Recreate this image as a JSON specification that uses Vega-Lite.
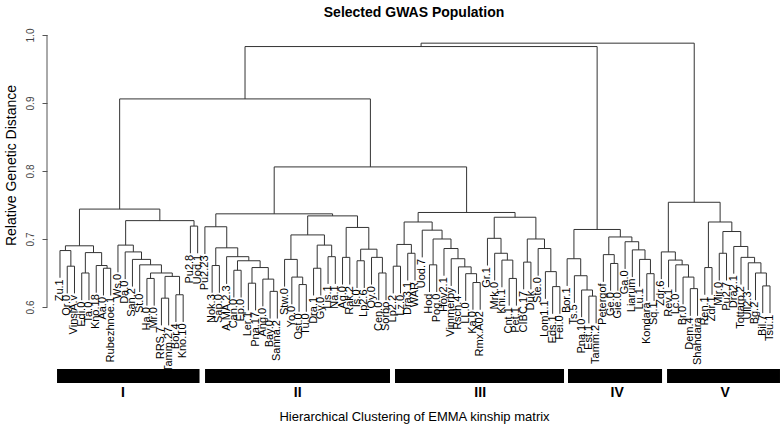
{
  "$schema": "https://vega.github.io/schema/vega-lite/v6.json",
  "width": 734,
  "height": 348,
  "autosize": "none",
  "padding": {"left": 47, "top": 35, "right": 0, "bottom": 42},
  "background": "white",
  "config": {"view": {"stroke": null}, "font": "Liberation Sans"},
  "title": {"text": "Selected GWAS Population", "fontSize": 14, "fontWeight": "bold", "font": "Liberation Sans", "color": "black", "offset": 8},
  "datasets": {
    "nodes": [
      {"x1":1,"x2":2,"h":0.660,"h1":0.620,"h2":0.620},
      {"x1":0,"x2":1.5,"h":0.683,"h1":0.643,"h2":0.660},
      {"x1":3,"x2":4,"h":0.650,"h1":0.610,"h2":0.610},
      {"x1":6,"x2":7,"h":0.657,"h1":0.617,"h2":0.617},
      {"x1":5,"x2":6.5,"h":0.661,"h1":0.621,"h2":0.657},
      {"x1":3.5,"x2":5.75,"h":0.680,"h1":0.650,"h2":0.661},
      {"x1":0.75,"x2":4.625,"h":0.690,"h1":0.683,"h2":0.680},
      {"x1":14,"x2":15,"h":0.613,"h1":0.573,"h2":0.573},
      {"x1":16,"x2":17,"h":0.618,"h1":0.578,"h2":0.578},
      {"x1":14.5,"x2":16.5,"h":0.645,"h1":0.613,"h2":0.618},
      {"x1":12,"x2":13,"h":0.642,"h1":0.602,"h2":0.602},
      {"x1":12.5,"x2":15.5,"h":0.650,"h1":0.642,"h2":0.645},
      {"x1":11,"x2":14,"h":0.662,"h1":0.622,"h2":0.650},
      {"x1":10,"x2":12.5,"h":0.670,"h1":0.630,"h2":0.662},
      {"x1":9,"x2":11.25,"h":0.681,"h1":0.641,"h2":0.670},
      {"x1":8,"x2":10.125,"h":0.691,"h1":0.651,"h2":0.681},
      {"x1":18,"x2":19,"h":0.719,"h1":0.679,"h2":0.679},
      {"x1":9.0625,"x2":18.5,"h":0.727,"h1":0.691,"h2":0.719},
      {"x1":2.6875,"x2":13.78125,"h":0.744,"h1":0.690,"h2":0.727},
      {"x1":21,"x2":22,"h":0.661,"h1":0.621,"h2":0.621},
      {"x1":24,"x2":25,"h":0.654,"h1":0.614,"h2":0.614},
      {"x1":26,"x2":27,"h":0.635,"h1":0.595,"h2":0.595},
      {"x1":29,"x2":30,"h":0.623,"h1":0.583,"h2":0.583},
      {"x1":28,"x2":29.5,"h":0.641,"h1":0.601,"h2":0.623},
      {"x1":26.5,"x2":28.75,"h":0.658,"h1":0.635,"h2":0.641},
      {"x1":24.5,"x2":27.625,"h":0.668,"h1":0.654,"h2":0.658},
      {"x1":23,"x2":26.0625,"h":0.674,"h1":0.634,"h2":0.668},
      {"x1":21.5,"x2":24.53125,"h":0.687,"h1":0.661,"h2":0.674},
      {"x1":20,"x2":23.015625,"h":0.718,"h1":0.678,"h2":0.687},
      {"x1":33,"x2":34,"h":0.633,"h1":0.593,"h2":0.593},
      {"x1":32,"x2":33.5,"h":0.644,"h1":0.604,"h2":0.633},
      {"x1":31,"x2":32.75,"h":0.670,"h1":0.630,"h2":0.644},
      {"x1":35,"x2":36,"h":0.657,"h1":0.617,"h2":0.617},
      {"x1":37,"x2":38,"h":0.674,"h1":0.634,"h2":0.634},
      {"x1":35.5,"x2":37.5,"h":0.691,"h1":0.657,"h2":0.674},
      {"x1":31.875,"x2":36.5,"h":0.706,"h1":0.670,"h2":0.691},
      {"x1":39,"x2":40,"h":0.673,"h1":0.633,"h2":0.633},
      {"x1":41,"x2":42,"h":0.668,"h1":0.628,"h2":0.628},
      {"x1":44,"x2":45,"h":0.650,"h1":0.610,"h2":0.610},
      {"x1":43,"x2":44.5,"h":0.673,"h1":0.633,"h2":0.650},
      {"x1":41.5,"x2":43.75,"h":0.685,"h1":0.668,"h2":0.673},
      {"x1":39.5,"x2":42.625,"h":0.717,"h1":0.673,"h2":0.685},
      {"x1":34.1875,"x2":41.0625,"h":0.734,"h1":0.706,"h2":0.717},
      {"x1":21.5078,"x2":37.625,"h":0.737,"h1":0.718,"h2":0.734},
      {"x1":46,"x2":47,"h":0.660,"h1":0.620,"h2":0.620},
      {"x1":48,"x2":49,"h":0.679,"h1":0.639,"h2":0.639},
      {"x1":46.5,"x2":48.5,"h":0.692,"h1":0.660,"h2":0.679},
      {"x1":57,"x2":58,"h":0.636,"h1":0.596,"h2":0.596},
      {"x1":56,"x2":57.5,"h":0.649,"h1":0.609,"h2":0.636},
      {"x1":55,"x2":56.75,"h":0.659,"h1":0.619,"h2":0.649},
      {"x1":54,"x2":55.875,"h":0.671,"h1":0.631,"h2":0.659},
      {"x1":53,"x2":54.9375,"h":0.686,"h1":0.646,"h2":0.671},
      {"x1":51,"x2":52,"h":0.662,"h1":0.622,"h2":0.622},
      {"x1":51.5,"x2":53.96875,"h":0.700,"h1":0.662,"h2":0.686},
      {"x1":50,"x2":52.734375,"h":0.713,"h1":0.673,"h2":0.700},
      {"x1":47.5,"x2":51.367188,"h":0.725,"h1":0.692,"h2":0.713},
      {"x1":62,"x2":63,"h":0.642,"h1":0.602,"h2":0.602},
      {"x1":61,"x2":62.5,"h":0.669,"h1":0.629,"h2":0.642},
      {"x1":60,"x2":61.75,"h":0.679,"h1":0.639,"h2":0.669},
      {"x1":59,"x2":60.875,"h":0.701,"h1":0.661,"h2":0.679},
      {"x1":64,"x2":65,"h":0.666,"h1":0.626,"h2":0.626},
      {"x1":68,"x2":69,"h":0.630,"h1":0.590,"h2":0.590},
      {"x1":67,"x2":68.5,"h":0.652,"h1":0.612,"h2":0.630},
      {"x1":66,"x2":67.75,"h":0.686,"h1":0.646,"h2":0.652},
      {"x1":64.5,"x2":66.875,"h":0.700,"h1":0.666,"h2":0.686},
      {"x1":59.9375,"x2":65.6875,"h":0.732,"h1":0.701,"h2":0.700},
      {"x1":49.433594,"x2":62.8125,"h":0.739,"h1":0.725,"h2":0.732},
      {"x1":29.5664,"x2":56.123047,"h":0.806,"h1":0.737,"h2":0.739},
      {"x1":8.234375,"x2":42.844724,"h":0.906,"h1":0.744,"h2":0.806},
      {"x1":73,"x2":74,"h":0.616,"h1":0.576,"h2":0.576},
      {"x1":72,"x2":73.5,"h":0.625,"h1":0.585,"h2":0.616},
      {"x1":71,"x2":72.75,"h":0.646,"h1":0.606,"h2":0.625},
      {"x1":70,"x2":71.875,"h":0.671,"h1":0.631,"h2":0.646},
      {"x1":76,"x2":77,"h":0.664,"h1":0.624,"h2":0.624},
      {"x1":75,"x2":76.5,"h":0.677,"h1":0.637,"h2":0.664},
      {"x1":81,"x2":82,"h":0.649,"h1":0.609,"h2":0.609},
      {"x1":80,"x2":81.5,"h":0.670,"h1":0.630,"h2":0.649},
      {"x1":79,"x2":80.75,"h":0.684,"h1":0.644,"h2":0.670},
      {"x1":78,"x2":79.875,"h":0.696,"h1":0.656,"h2":0.684},
      {"x1":75.75,"x2":78.9375,"h":0.703,"h1":0.677,"h2":0.696},
      {"x1":70.9375,"x2":77.34375,"h":0.714,"h1":0.671,"h2":0.703},
      {"x1":87,"x2":88,"h":0.627,"h1":0.587,"h2":0.587},
      {"x1":86,"x2":87.5,"h":0.644,"h1":0.604,"h2":0.627},
      {"x1":85,"x2":86.75,"h":0.662,"h1":0.622,"h2":0.644},
      {"x1":84,"x2":85.875,"h":0.669,"h1":0.629,"h2":0.662},
      {"x1":83,"x2":84.9375,"h":0.681,"h1":0.641,"h2":0.669},
      {"x1":89,"x2":90,"h":0.658,"h1":0.618,"h2":0.618},
      {"x1":91,"x2":92,"h":0.679,"h1":0.639,"h2":0.639},
      {"x1":97,"x2":98,"h":0.631,"h1":0.591,"h2":0.591},
      {"x1":96,"x2":97.5,"h":0.650,"h1":0.610,"h2":0.631},
      {"x1":95,"x2":96.75,"h":0.665,"h1":0.625,"h2":0.650},
      {"x1":94,"x2":95.875,"h":0.673,"h1":0.633,"h2":0.665},
      {"x1":93,"x2":94.9375,"h":0.689,"h1":0.649,"h2":0.673},
      {"x1":91.5,"x2":93.96875,"h":0.711,"h1":0.679,"h2":0.689},
      {"x1":89.5,"x2":92.734375,"h":0.725,"h1":0.658,"h2":0.711},
      {"x1":83.96875,"x2":91.117188,"h":0.754,"h1":0.681,"h2":0.725},
      {"x1":25.53955,"x2":74.140625,"h":0.983,"h1":0.906,"h2":0.714},
      {"x1":49.840088,"x2":87.542969,"h":0.988,"h1":0.983,"h2":0.754}
    ],
    "leaves": [
      {"i":0,"name":"Zu.1","h":0.643},{"i":1,"name":"Qr.0","h":0.620},{"i":2,"name":"VinslA.v","h":0.620},
      {"i":3,"name":"Edi.0","h":0.610},{"i":4,"name":"Ta.0","h":0.610},{"i":5,"name":"Kno.18","h":0.621},
      {"i":6,"name":"Aa.0","h":0.617},{"i":7,"name":"Rubezhnoe.1","h":0.617},{"i":8,"name":"Ws.0","h":0.651},
      {"i":9,"name":"Da.0","h":0.641},{"i":10,"name":"San.2","h":0.630},{"i":11,"name":"St.0","h":0.622},
      {"i":12,"name":"Ha.0","h":0.602},{"i":13,"name":"Mr.0","h":0.602},{"i":14,"name":"RRS.7","h":0.573},
      {"i":15,"name":"Tamm.27","h":0.573},{"i":16,"name":"Bor.4","h":0.578},{"i":17,"name":"Kno.10","h":0.578},
      {"i":18,"name":"Pu2.8","h":0.679},{"i":19,"name":"Uod.1","h":0.679},{"i":20,"name":"Pu2.23","h":0.678},
      {"i":21,"name":"Nok.3","h":0.621},{"i":22,"name":"Sap.0","h":0.621},{"i":23,"name":"A.MA.2.3","h":0.634},
      {"i":24,"name":"Can.0","h":0.614},{"i":25,"name":"Ep.0","h":0.614},{"i":26,"name":"Ler.1","h":0.595},
      {"i":27,"name":"Pna.17","h":0.595},{"i":28,"name":"Ang.0","h":0.601},{"i":29,"name":"Bay.0","h":0.583},
      {"i":30,"name":"Sanna.2","h":0.583},{"i":31,"name":"Stw.0","h":0.630},{"i":32,"name":"Yo.0","h":0.604},
      {"i":33,"name":"Ost.0","h":0.593},{"i":34,"name":"Tu.0","h":0.593},{"i":35,"name":"Dra.1","h":0.617},
      {"i":36,"name":"Gy.0","h":0.617},{"i":37,"name":"Lis.1","h":0.634},{"i":38,"name":"Na.1","h":0.634},
      {"i":39,"name":"Ag.0","h":0.633},{"i":40,"name":"Rak.2","h":0.633},{"i":41,"name":"Is.0","h":0.628},
      {"i":42,"name":"Lp2.6","h":0.628},{"i":43,"name":"Oy.0","h":0.633},{"i":44,"name":"Cen.0","h":0.610},
      {"i":45,"name":"Sorbo","h":0.610},{"i":46,"name":"Lp2.2","h":0.620},{"i":47,"name":"Lz.0","h":0.620},
      {"i":48,"name":"Dra3.1","h":0.639},{"i":49,"name":"WAR","h":0.639},{"i":50,"name":"Uod.7","h":0.673},
      {"i":51,"name":"Hod","h":0.622},{"i":52,"name":"Pog.0","h":0.622},{"i":53,"name":"Hov2.1","h":0.646},
      {"i":54,"name":"Vimmerby","h":0.631},{"i":55,"name":"Rsch.4","h":0.619},{"i":56,"name":"LL.0","h":0.609},
      {"i":57,"name":"Ka.0","h":0.596},{"i":58,"name":"Rmx.A02","h":0.596},{"i":59,"name":"Gr.1","h":0.661},
      {"i":60,"name":"Mrk.0","h":0.639},{"i":61,"name":"Kni.1","h":0.629},{"i":62,"name":"Cnt.1","h":0.602},
      {"i":63,"name":"Pet.1","h":0.602},{"i":64,"name":"CIBC.17","h":0.626},{"i":65,"name":"Duk","h":0.626},
      {"i":66,"name":"Ste.0","h":0.646},{"i":67,"name":"Lom1.1","h":0.612},{"i":68,"name":"Eds.1","h":0.590},
      {"i":69,"name":"Fei.0","h":0.590},{"i":70,"name":"Bor.1","h":0.631},{"i":71,"name":"Ts.5","h":0.606},
      {"i":72,"name":"Pna.10","h":0.585},{"i":73,"name":"Est.1","h":0.576},{"i":74,"name":"Tamm.2","h":0.576},
      {"i":75,"name":"Petergof","h":0.637},{"i":76,"name":"Ge.0","h":0.624},{"i":77,"name":"Gie.0","h":0.624},
      {"i":78,"name":"Ga.0","h":0.656},{"i":79,"name":"Liarum","h":0.644},{"i":80,"name":"Lu.1","h":0.630},
      {"i":81,"name":"Kondara","h":0.609},{"i":82,"name":"Sq.1","h":0.609},{"i":83,"name":"Zdr.6","h":0.641},
      {"i":84,"name":"Rev.1","h":0.629},{"i":85,"name":"Lc.0","h":0.622},{"i":86,"name":"Br.0","h":0.604},
      {"i":87,"name":"Dem.4","h":0.587},{"i":88,"name":"Shahdara","h":0.587},{"i":89,"name":"Ren.1","h":0.618},
      {"i":90,"name":"Zdr.1","h":0.618},{"i":91,"name":"Mir.0","h":0.639},{"i":92,"name":"Pu2.7","h":0.639},
      {"i":93,"name":"Dra2.1","h":0.649},{"i":94,"name":"Tottarp.2","h":0.633},{"i":95,"name":"Ull2.3","h":0.625},
      {"i":96,"name":"Bg.2","h":0.610},{"i":97,"name":"Bil.7","h":0.591},{"i":98,"name":"Tsu.1","h":0.591}
    ],
    "groups": [
      {"g":"I","s":-0.41,"e":19.26,"m":8.7},
      {"g":"II","s":20.02,"e":45.55,"m":32.8},
      {"g":"III","s":46.24,"e":69.57,"m":58.0},
      {"g":"IV","s":70.12,"e":83.1,"m":76.9},
      {"g":"V","s":83.79,"e":99.38,"m":91.8}
    ],
    "axisline": [{"x": -1.794, "lo": 0.6, "hi": 1.0}]
  },
  "layer": [
    {
      "data": {"name": "nodes"},
      "mark": {"type": "rule", "color": "#333333", "strokeWidth": 1},
      "encoding": {
        "x": {"field": "x1", "type": "quantitative", "scale": {"domain": [-1.794, 99.52], "nice": false, "zero": false},
              "axis": {"title": "Hierarchical Clustering of EMMA kinship matrix", "domain": false, "ticks": false, "labels": false, "grid": false,
                       "titleFontSize": 13, "titleFontWeight": "normal", "titleColor": "black", "titlePadding": 27, "titleFont": "Liberation Sans"}},
        "x2": {"field": "x2"},
        "y": {"field": "h", "type": "quantitative", "scale": {"domain": [0.488235, 1.0], "nice": false, "zero": false},
              "axis": {"title": "Relative Genetic Distance", "values": [0.6, 0.7, 0.8, 0.9, 1.0], "format": ".1f", "domain": false, "grid": false,
                       "tickSize": 5, "tickColor": "#555555", "labelAngle": 270, "labelAlign": "center", "labelBaseline": "bottom",
                       "labelPadding": 7, "labelFontSize": 10, "labelColor": "#444444", "labelFont": "Liberation Sans",
                       "titleFontSize": 14, "titleFontWeight": "normal", "titleColor": "black", "titleFont": "Liberation Sans",
                       "titleY": 130, "titlePadding": 7}}
      }
    },
    {
      "data": {"name": "nodes"},
      "mark": {"type": "rule", "color": "#333333", "strokeWidth": 1},
      "encoding": {
        "x": {"field": "x1", "type": "quantitative"},
        "y": {"field": "h", "type": "quantitative"},
        "y2": {"field": "h1"}
      }
    },
    {
      "data": {"name": "nodes"},
      "mark": {"type": "rule", "color": "#333333", "strokeWidth": 1},
      "encoding": {
        "x": {"field": "x2", "type": "quantitative"},
        "y": {"field": "h", "type": "quantitative"},
        "y2": {"field": "h2"}
      }
    },
    {
      "data": {"name": "leaves"},
      "mark": {"type": "text", "angle": 270, "align": "right", "baseline": "middle", "fontSize": 11, "font": "Liberation Sans", "color": "black", "dx": -1.5},
      "encoding": {
        "x": {"field": "i", "type": "quantitative"},
        "y": {"field": "h", "type": "quantitative"},
        "text": {"field": "name"}
      }
    },
    {
      "data": {"name": "groups"},
      "mark": {"type": "rect", "color": "black"},
      "encoding": {
        "x": {"field": "s", "type": "quantitative"},
        "x2": {"field": "e"},
        "y": {"datum": 0.5088, "type": "quantitative"},
        "y2": {"datum": 0.4882}
      }
    },
    {
      "data": {"name": "groups"},
      "mark": {"type": "text", "fontSize": 14, "fontWeight": "bold", "font": "Liberation Sans", "color": "black", "baseline": "middle", "align": "center"},
      "encoding": {
        "x": {"field": "m", "type": "quantitative"},
        "y": {"datum": 0.4735, "type": "quantitative"},
        "text": {"field": "g"}
      }
    },
    {
      "data": {"name": "axisline"},
      "mark": {"type": "rule", "color": "#555555", "strokeWidth": 1},
      "encoding": {
        "x": {"field": "x", "type": "quantitative"},
        "y": {"field": "lo", "type": "quantitative"},
        "y2": {"field": "hi"}
      }
    }
  ]
}
